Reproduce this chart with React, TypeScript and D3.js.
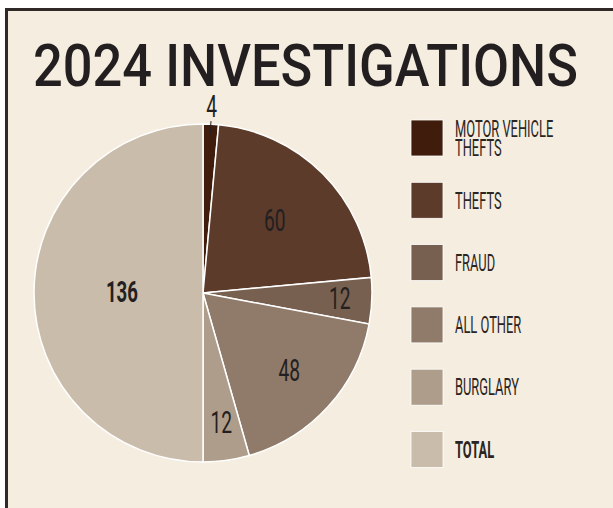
import React from "react";
import * as d3 from "d3";

const categories = ["MOTOR VEHICLE THEFTS", "THEFTS", "FRAUD", "ALL OTHER", "BURGLARY", "TOTAL"];
const values = [4, 60, 12, 48, 12, 136];
const colors = ["#3f1c0b", "#5c3b2b", "#77604f", "#907b6a", "#ae9d8b", "#c9bcab"];
const legendLines = [["MOTOR VEHICLE", "THEFTS"], ["THEFTS"], ["FRAUD"], ["ALL OTHER"], ["BURGLARY"], ["TOTAL"]];
const title = "2024 INVESTIGATIONS";

const W = 613, H = 508;
const cx = 203, cy = 293, R = 169;
const labelFrac = [1.1, 0.6, 0.81, 0.69, 0.78, 0.48];

export default function App() {
  const pie = d3.pie<number>().sort(null).value((d) => d);
  const arcs = pie(values);
  const arcGen = d3.arc<d3.PieArcDatum<number>>().innerRadius(0).outerRadius(R);
  const legendX = 411, legendY0 = 120, legendStep = 62.3;

  return (
    <svg width={W} height={H} style={{ position: "absolute", left: 0, top: 0, display: "block" }}>
      <rect x={0} y={0} width={W} height={H} fill="#ffffff" />
      <rect x={6.5} y={9.5} width={W + 20} height={H + 20} fill="#f5eddf" stroke="#2f2a28" strokeWidth={3} />
      <text x={33} y={86} fontFamily="Roboto" fontWeight={500} fontSize={60} fill="#231f20"
        textLength={545} lengthAdjust="spacingAndGlyphs">{title}</text>
      <g transform={`translate(${cx},${cy})`}>
        {arcs.map((a, i) => (
          <path key={i} d={arcGen(a) || ""} fill={colors[i]} stroke="#ffffff" strokeWidth={1.5} />
        ))}
        {arcs.map((a, i) => {
          const mid = (a.startAngle + a.endAngle) / 2;
          const r = R * labelFrac[i];
          const x = Math.sin(mid) * r;
          const y = -Math.cos(mid) * r;
          const bold = i === 5;
          return (
            <text key={"l" + i} transform={`translate(${x},${y}) scale(0.62,1)`} textAnchor="middle" dy="0.3em"
              fontFamily="Roboto" fontWeight={bold ? 700 : 400} fontSize={bold ? 30 : 31} fill="#231f20">
              {values[i]}
            </text>
          );
        })}
        {(() => {
          const mid = (arcs[0].startAngle + arcs[0].endAngle) / 2;
          return (
            <line x1={Math.sin(mid) * (R - 10)} y1={-Math.cos(mid) * (R - 10)}
              x2={Math.sin(mid) * (R + 3)} y2={-Math.cos(mid) * (R + 3)}
              stroke="#231f20" strokeWidth={1} />
          );
        })()}
      </g>
      {categories.map((c, i) => {
        const y = legendY0 + i * legendStep;
        const lines = legendLines[i];
        const bold = i === 5;
        return (
          <g key={c}>
            <rect x={legendX} y={y} width={32} height={36} fill={colors[i]} stroke="#ffffff" strokeWidth={0.8} />
            {lines.map((ln, j) => (
              <text key={j}
                transform={`translate(455,${y + 18 + (j - (lines.length - 1) / 2) * 19}) scale(0.56,1)`}
                dy="0.36em" fontFamily="Roboto" fontWeight={bold ? 700 : 400} fontSize={23} fill="#2a2523">
                {ln}
              </text>
            ))}
          </g>
        );
      })}
    </svg>
  );
}
